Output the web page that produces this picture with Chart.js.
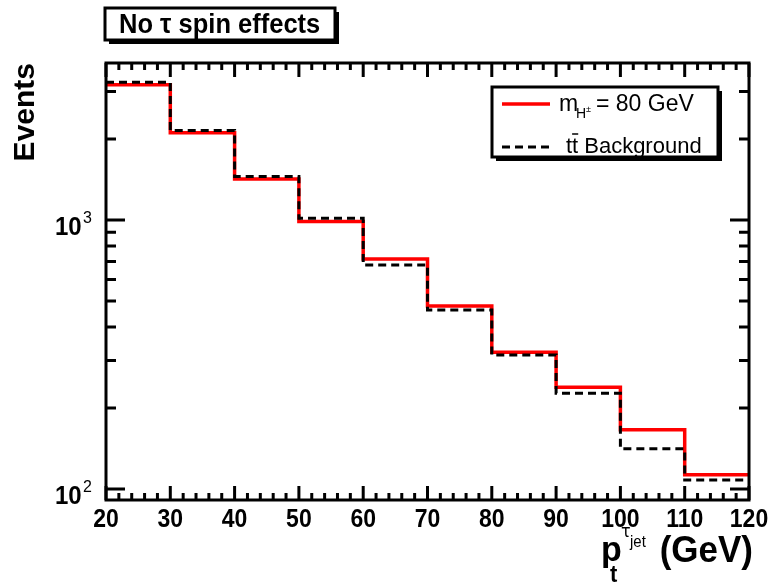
<!DOCTYPE html>
<html>
<head>
<meta charset="utf-8">
<script src="https://cdn.jsdelivr.net/npm/chart.js@4.4.1/dist/chart.umd.min.js"></script>
<style>
  body { margin: 0; background: #fff; }
  #wrap { width: 776px; height: 583px; position: relative; }
</style>
</head>
<body>
<div id="wrap"><canvas id="histo"></canvas></div>
<script>
// bin edges of p_t (GeV) and contents per bin
const binEdges = [20, 30, 40, 50, 60, 70, 80, 90, 100, 110, 120];
const signalCounts = [3180, 2110, 1420, 986, 716, 479, 322, 239, 166, 113];
const backgroundCounts = [3250, 2150, 1450, 1015, 680, 463, 315, 227, 141, 108];

const xTickValues = [20, 30, 40, 50, 60, 70, 80, 90, 100, 110, 120];
const yTickValues = [100, 1000];
const yTickExponents = ["2", "3"];

const legendLabels = ["= 80 GeV", "Background"];
const titleText = "No \u03c4 spin effects";

const FONT = "'Liberation Sans', Arial, sans-serif";

// turn bin contents into step points (last edge repeats last bin)
function toSteps(counts) {
  return binEdges.map(function (x, i) {
    return { x: x, y: counts[Math.min(i, counts.length - 1)] };
  });
}

// text a bit taller than wide, like the original print
function tallText(ctx, text, x, y, font, sy, align) {
  ctx.save();
  ctx.translate(x, y);
  ctx.scale(1, sy);
  ctx.font = font;
  ctx.textAlign = align || "left";
  ctx.textBaseline = "alphabetic";
  ctx.fillText(text, 0, 0);
  ctx.restore();
}

// ROOT-like frame, inside ticks, boxes and titles
const rootStyle = {
  id: "rootStyle",
  afterDraw: function (chart) {
    const ctx = chart.ctx;
    const a = chart.chartArea;
    const xs = chart.scales.x;
    const ys = chart.scales.y;
    ctx.save();
    ctx.strokeStyle = "#000";
    ctx.fillStyle = "#000";
    ctx.lineWidth = 3;
    ctx.setLineDash([]);

    // frame
    ctx.strokeRect(a.left, a.top, a.right - a.left, a.bottom - a.top);

    // x ticks, minor every 2 GeV
    ctx.beginPath();
    for (let v = xs.min; v <= xs.max; v += 2) {
      const px = xs.getPixelForValue(v);
      const len = (v - xs.min) % 10 === 0 ? 14 : 7;
      ctx.moveTo(px, a.bottom);
      ctx.lineTo(px, a.bottom - len);
      ctx.moveTo(px, a.top);
      ctx.lineTo(px, a.top + len);
    }
    // y ticks on the log axis
    for (let dec = 10; dec <= 10000; dec *= 10) {
      for (let m = 1; m <= 9; m++) {
        const v = m * dec;
        if (v < ys.min || v > ys.max) continue;
        const py = ys.getPixelForValue(v);
        const len = m === 1 ? 19 : 10;
        ctx.moveTo(a.left, py);
        ctx.lineTo(a.left + len, py);
        ctx.moveTo(a.right, py);
        ctx.lineTo(a.right - len, py);
      }
    }
    ctx.stroke();

    // x tick labels
    xTickValues.forEach(function (v) {
      tallText(ctx, String(v), xs.getPixelForValue(v), a.bottom + 27,
        "bold 23px " + FONT, 1.15, "center");
    });

    // y tick labels 10^n
    yTickValues.forEach(function (v, i) {
      const py = ys.getPixelForValue(v);
      tallText(ctx, "10", 55, py + 15, "bold 24px " + FONT, 1.1, "left");
      tallText(ctx, yTickExponents[i], 83, py + 3, "16px " + FONT, 1.05, "left");
    });

    // y title
    ctx.save();
    ctx.translate(34, a.top);
    ctx.rotate(-Math.PI / 2);
    ctx.font = "bold 30px " + FONT;
    ctx.textAlign = "right";
    ctx.fillText("Events", 0, 0);
    ctx.restore();

    // x title p_t^{tau_jet} (GeV)
    tallText(ctx, "p", 601, 561, "bold 34px " + FONT, 1.05);
    tallText(ctx, "t", 610, 582, "bold 22px " + FONT, 1.05);
    tallText(ctx, "\u03c4", 621, 537, "16px 'DejaVu Sans', sans-serif", 1.1);
    tallText(ctx, "jet", 630, 547, "15px " + FONT, 1.1);
    tallText(ctx, "(GeV)", 753, 562, "bold 35px " + FONT, 1.05, "right");

    // title box with shadow
    ctx.fillRect(109, 12, 230, 32);
    ctx.fillStyle = "#fff";
    ctx.fillRect(105, 8, 230, 32);
    ctx.strokeRect(105, 8, 230, 32);
    ctx.fillStyle = "#000";
    tallText(ctx, titleText, 119, 33, "bold 25.5px " + FONT, 1.05);

    // legend box with shadow
    ctx.fillRect(496, 91, 226, 70);
    ctx.fillStyle = "#fff";
    ctx.fillRect(492, 87, 226, 70);
    ctx.strokeRect(492, 87, 226, 70);
    ctx.fillStyle = "#000";

    const dsSig = chart.data.datasets[1];
    const dsBkg = chart.data.datasets[0];
    ctx.lineWidth = 3.5;
    ctx.strokeStyle = dsSig.borderColor;
    ctx.beginPath();
    ctx.moveTo(502, 104);
    ctx.lineTo(550, 104);
    ctx.stroke();
    ctx.lineWidth = 3;
    ctx.strokeStyle = dsBkg.borderColor;
    ctx.setLineDash(dsBkg.borderDash);
    ctx.beginPath();
    ctx.moveTo(502, 147);
    ctx.lineTo(552, 147);
    ctx.stroke();
    ctx.setLineDash([]);

    tallText(ctx, "m", 559, 111, "23px " + FONT, 1.0);
    tallText(ctx, "H", 576, 118, "14px " + FONT, 1.0);
    tallText(ctx, "\u00b1", 586, 112, "9px " + FONT, 1.0);
    tallText(ctx, legendLabels[0], 596, 111, "23px " + FONT, 1.0);

    ctx.font = "22px " + FONT;
    const tw = ctx.measureText("t").width;
    tallText(ctx, "tt", 566, 153, "22px " + FONT, 1.0);
    ctx.lineWidth = 1.5;
    ctx.beginPath();
    ctx.moveTo(566 + tw, 134);
    ctx.lineTo(566 + 2 * tw, 134);
    ctx.stroke();
    tallText(ctx, legendLabels[1], 566 + 2 * tw + 6, 153, "22px " + FONT, 1.0);

    ctx.restore();
  }
};

const ctxEl = document.getElementById("histo");
new Chart(ctxEl, {
  type: "line",
  data: {
    datasets: [
      {
        label: "tt Background",
        data: toSteps(backgroundCounts),
        stepped: "before",
        borderColor: "#000000",
        borderWidth: 3,
        borderDash: [8, 5],
        pointRadius: 0,
        fill: false
      },
      {
        label: "m_H = 80 GeV",
        data: toSteps(signalCounts),
        stepped: "before",
        borderColor: "#ff0000",
        borderWidth: 3.5,
        pointRadius: 0,
        fill: false
      }
    ]
  },
  options: {
    responsive: true,
    maintainAspectRatio: false,
    animation: false,
    layout: { padding: { left: 0, right: 27, top: 63, bottom: 0 } },
    plugins: {
      legend: { display: false },
      tooltip: { enabled: false }
    },
    scales: {
      x: {
        type: "linear",
        min: 20,
        max: 120,
        afterFit: function (scale) { scale.height = 83; },
        grid: { display: false },
        border: { display: false },
        ticks: { display: false }
      },
      y: {
        type: "logarithmic",
        min: 91,
        max: 3830,
        afterFit: function (scale) { scale.width = 106; },
        grid: { display: false },
        border: { display: false },
        ticks: { display: false }
      }
    }
  },
  plugins: [rootStyle]
});
</script>
</body>
</html>
